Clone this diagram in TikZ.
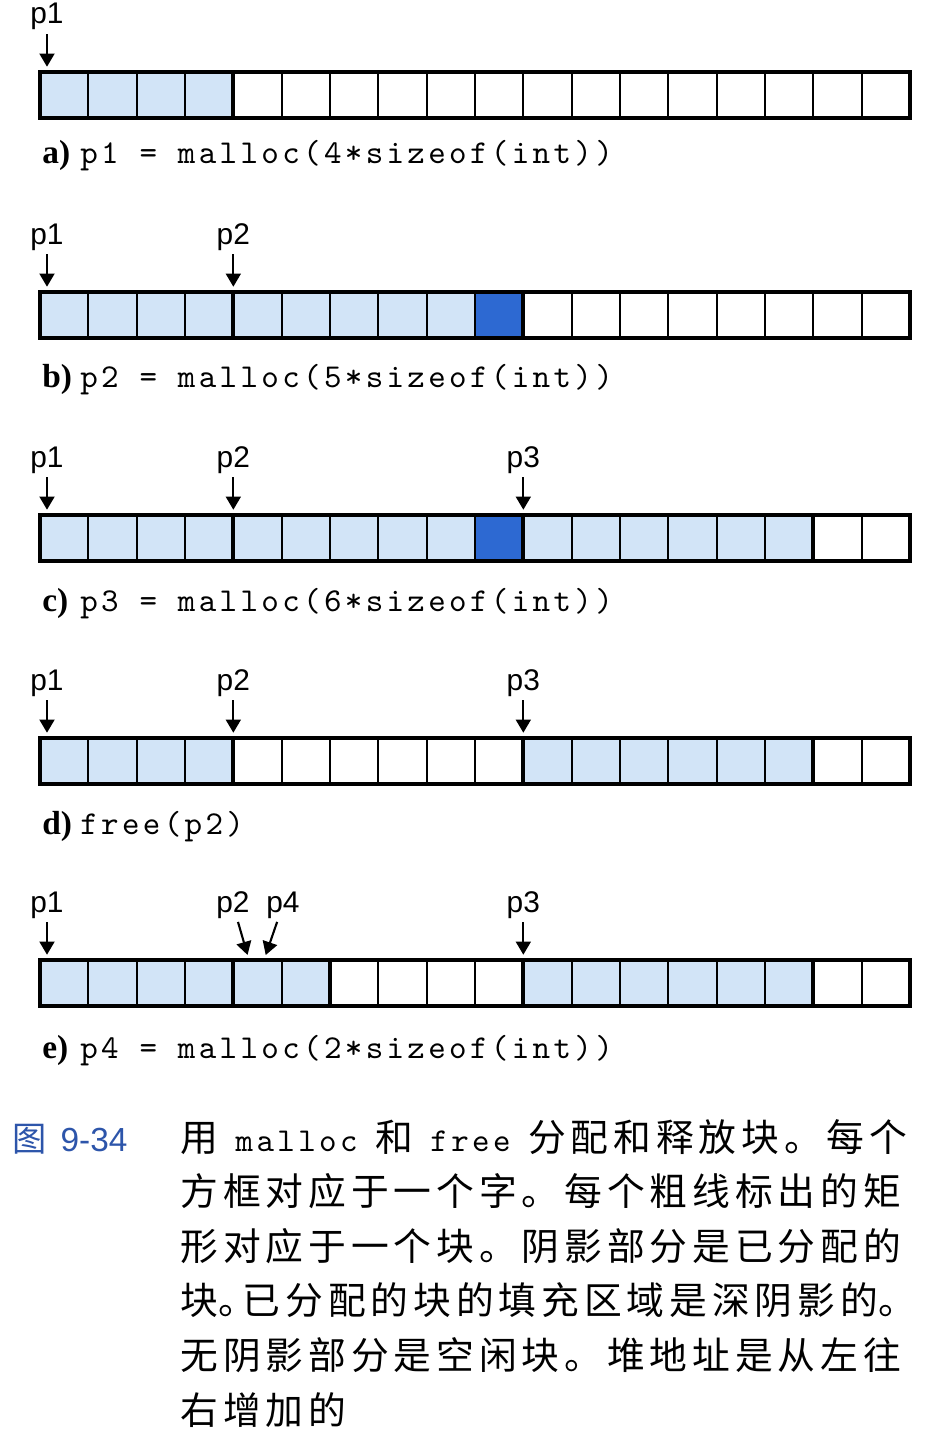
\documentclass[tikz,border=0pt]{standalone}
\usepackage{fontspec}
\usepackage{tikz}
\usetikzlibrary{arrows.meta}

\newfontfamily\ptrfont{Liberation Sans}
\newfontfamily\tagfont{Liberation Serif}
\newfontfamily\codefont[LetterSpace=10]{lmmono10-regular.otf}
\newfontfamily\cjkfont[LetterSpace=13]{Noto Sans CJK SC}
\newfontfamily\cjkplain{Noto Sans CJK SC}

\definecolor{usedblue}{RGB}{210,228,247}
\definecolor{padblue}{RGB}{45,105,210}
\definecolor{figblue}{RGB}{45,85,170}

\newcommand{\cellw}{48.333}
\newcommand{\halfdot}{\makebox[14pt][l]{。}}

\begin{document}
\begin{tikzpicture}[x=0.02cm, y=-0.02cm,
    word/.style={draw=black, line width=1.1pt},
    blk/.style={draw=black, line width=2.3pt},
    ptr/.style={-{Triangle[width=8.5pt,length=7.5pt]}, line width=1.2pt, shorten <=2pt, shorten >=3pt},
    ptrlbl/.style={font=\ptrfont\fontsize{17}{20}\selectfont, inner sep=0pt, anchor=base},
    tag/.style={font=\tagfont\bfseries\fontsize{19}{22}\selectfont, inner sep=0pt, anchor=base west},
    code/.style={font=\codefont\fontsize{19}{22}\selectfont, inner sep=0pt, anchor=base west},
    capline/.style={font=\cjkfont\fontsize{21.5}{26}\selectfont, inner sep=0pt, anchor=base west}]

\useasboundingbox (0,0) rectangle (928,1436);

% a) p1 = malloc(4*sizeof(int))
\foreach \i in {0,...,3}
  \fill[usedblue] ({40+\i*\cellw},72) rectangle +(\cellw,46);
\foreach \i in {1,...,17}
  \draw[word] ({40+\i*\cellw},72) -- +(0,46);
\draw[blk] (40,72) rectangle +(870,46);
\draw[blk] ({40+4*\cellw},72) -- +(0,46);
\coordinate (a0) at (47,72);
\node[ptrlbl] (ap1) at (47,24) {p1};
\draw[ptr] (ap1) -- (a0);
\node[tag] (atag) at (42,164) {a)};
\node[code] (acode) at (80,164) {p1 = malloc(4*sizeof(int))};

% b) p2 = malloc(5*sizeof(int))
\foreach \i in {0,...,8}
  \fill[usedblue] ({40+\i*\cellw},292) rectangle +(\cellw,46);
\fill[padblue] ({40+9*\cellw},292) rectangle +(\cellw,46);
\foreach \i in {1,...,17}
  \draw[word] ({40+\i*\cellw},292) -- +(0,46);
\draw[blk] (40,292) rectangle +(870,46);
\foreach \i in {4,10}
  \draw[blk] ({40+\i*\cellw},292) -- +(0,46);
\coordinate (b0) at (47,292);
\coordinate (b4) at ({40+4*\cellw},292);
\node[ptrlbl] (bp1) at (47,244) {p1};
\node[ptrlbl] (bp2) at ({40+4*\cellw},244) {p2};
\draw[ptr] (bp1) -- (b0);
\draw[ptr] (bp2) -- (b4);
\node[tag] (btag) at (42,387) {b)};
\node[code] (bcode) at (80,387) {p2 = malloc(5*sizeof(int))};

% c) p3 = malloc(6*sizeof(int))
\foreach \i in {0,...,8,10,11,...,15}
  \fill[usedblue] ({40+\i*\cellw},515) rectangle +(\cellw,46);
\fill[padblue] ({40+9*\cellw},515) rectangle +(\cellw,46);
\foreach \i in {1,...,17}
  \draw[word] ({40+\i*\cellw},515) -- +(0,46);
\draw[blk] (40,515) rectangle +(870,46);
\foreach \i in {4,10,16}
  \draw[blk] ({40+\i*\cellw},515) -- +(0,46);
\coordinate (c0) at (47,515);
\coordinate (c4) at ({40+4*\cellw},515);
\coordinate (c10) at ({40+10*\cellw},515);
\node[ptrlbl] (cp1) at (47,467) {p1};
\node[ptrlbl] (cp2) at ({40+4*\cellw},467) {p2};
\node[ptrlbl] (cp3) at ({40+10*\cellw},467) {p3};
\draw[ptr] (cp1) -- (c0);
\draw[ptr] (cp2) -- (c4);
\draw[ptr] (cp3) -- (c10);
\node[tag] (ctag) at (42,611) {c)};
\node[code] (ccode) at (80,611) {p3 = malloc(6*sizeof(int))};

% d) free(p2)
\foreach \i in {0,...,3,10,11,...,15}
  \fill[usedblue] ({40+\i*\cellw},738) rectangle +(\cellw,46);
\foreach \i in {1,...,17}
  \draw[word] ({40+\i*\cellw},738) -- +(0,46);
\draw[blk] (40,738) rectangle +(870,46);
\foreach \i in {4,10,16}
  \draw[blk] ({40+\i*\cellw},738) -- +(0,46);
\coordinate (d0) at (47,738);
\coordinate (d4) at ({40+4*\cellw},738);
\coordinate (d10) at ({40+10*\cellw},738);
\node[ptrlbl] (dp1) at (47,690) {p1};
\node[ptrlbl] (dp2) at ({40+4*\cellw},690) {p2};
\node[ptrlbl] (dp3) at ({40+10*\cellw},690) {p3};
\draw[ptr] (dp1) -- (d0);
\draw[ptr] (dp2) -- (d4);
\draw[ptr] (dp3) -- (d10);
\node[tag] (dtag) at (42,834) {d)};
\node[code] (dcode) at (80,834) {free(p2)};

% e) p4 = malloc(2*sizeof(int))
\foreach \i in {0,...,5,10,11,...,15}
  \fill[usedblue] ({40+\i*\cellw},960) rectangle +(\cellw,46);
\foreach \i in {1,...,17}
  \draw[word] ({40+\i*\cellw},960) -- +(0,46);
\draw[blk] (40,960) rectangle +(870,46);
\foreach \i in {4,6,10,16}
  \draw[blk] ({40+\i*\cellw},960) -- +(0,46);
\coordinate (e0) at (47,960);
\coordinate (e4l) at (249,960);
\coordinate (e4r) at (264,960);
\coordinate (e10) at ({40+10*\cellw},960);
\node[ptrlbl] (ep1) at (47,912) {p1};
\node[ptrlbl] (ep2) at (233,912) {p2};
\node[ptrlbl] (ep4) at (283,912) {p4};
\node[ptrlbl] (ep3) at ({40+10*\cellw},912) {p3};
\draw[ptr] (ep1) -- (e0);
\draw[ptr] (ep2) -- (e4l);
\draw[ptr] (ep4) -- (e4r);
\draw[ptr] (ep3) -- (e10);
\node[tag] (etag) at (42,1058) {e)};
\node[code] (ecode) at (80,1058) {p4 = malloc(2*sizeof(int))};

% caption
\node[inner sep=0pt, anchor=base west, text=figblue] (fignum) at (12,1151)
  {{\cjkplain\fontsize{19.5}{22}\selectfont 图}\hspace{8pt}{\ptrfont\fontsize{19}{22}\selectfont 9-34}};
\node[capline] (cap1) at (180,1151) {用\hspace{10pt}{\codefont\fontsize{19}{22}\selectfont malloc}\hspace{10pt}和\hspace{10pt}{\codefont\fontsize{19}{22}\selectfont free}\hspace{10pt}分配和释放块。每个};
\node[capline] (cap2) at (180,1205.6) {方框对应于一个字。每个粗线标出的矩};
\node[capline] (cap3) at (180,1260.2) {形对应于一个块。阴影部分是已分配的};
\node[capline] (cap4) at (180,1314.8) {块\halfdot 已分配的块的填充区域是深阴影的\halfdot};
\node[capline] (cap5) at (180,1369.4) {无阴影部分是空闲块。堆地址是从左往};
\node[capline] (cap6) at (180,1424) {右增加的};
\end{tikzpicture}
\end{document}
